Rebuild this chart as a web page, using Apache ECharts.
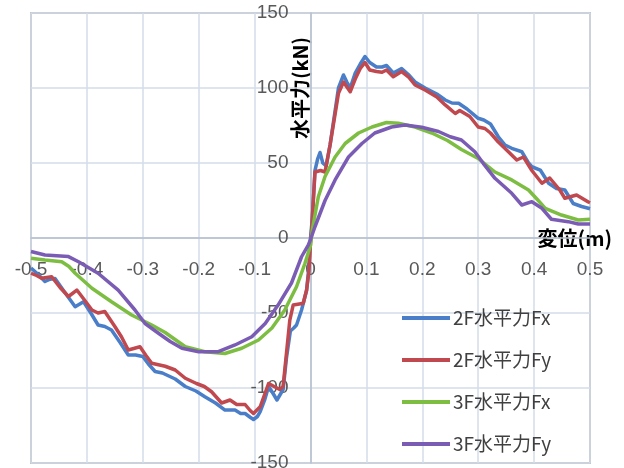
<!DOCTYPE html>
<html>
<head>
<meta charset="utf-8">
<script src="https://cdn.jsdelivr.net/npm/echarts@6/dist/echarts.min.js"></script>
<style>
  html, body { margin: 0; padding: 0; background: #fff; }
  #chart { width: 624px; height: 468px; }
</style>
</head>
<body>
<div id="chart"></div>
<script>
// Displacement (m) vs horizontal force (kN) for 2F and 3F, X and Y directions
const seriesNames = ['2F水平力Fx', '2F水平力Fy', '3F水平力Fx', '3F水平力Fy'];
const seriesColors = ['#4a7ec8', '#c0484f', '#7cbd42', '#7b5cb5'];

const force2Fx = [
  [-0.5,-20],[-0.488,-24],[-0.475,-29],[-0.466,-27.5],[-0.457,-27],[-0.44,-36],[-0.421,-45.8],
  [-0.406,-42.5],[-0.393,-50],[-0.38,-58],[-0.368,-59],[-0.356,-61.3],[-0.34,-70],[-0.326,-78],
  [-0.313,-78],[-0.3,-79],[-0.29,-84],[-0.278,-89],[-0.265,-90],[-0.242,-94],[-0.224,-99],
  [-0.205,-102],[-0.189,-105.8],[-0.17,-110],[-0.153,-114.7],[-0.135,-114.7],[-0.125,-117],
  [-0.117,-117],[-0.108,-119.5],[-0.102,-121],[-0.095,-119],[-0.09,-115.8],[-0.082,-108],
  [-0.075,-99],[-0.068,-103],[-0.06,-108],[-0.049,-101],[-0.043,-80],[-0.036,-62],[-0.03,-60],
  [-0.025,-58],[-0.016,-48],[-0.007,-35],[-0.003,-20],[0,0],
  [0.003,12],[0.008,45],[0.013,53],[0.017,57],[0.022,50],[0.028,48],[0.035,62],[0.05,100],
  [0.059,108.7],[0.065,104],[0.071,100],[0.08,110],[0.089,116],[0.0975,121],[0.106,117],
  [0.118,114],[0.128,114],[0.136,115],[0.148,110],[0.163,113],[0.175,109],[0.187,104],
  [0.205,100],[0.226,96],[0.241,92],[0.253,90],[0.265,89.8],[0.28,86],[0.3,79.8],[0.31,78.7],
  [0.322,76],[0.336,67.5],[0.348,62],[0.36,59.8],[0.378,57.5],[0.39,50],[0.396,47.5],
  [0.411,45.3],[0.426,36.5],[0.44,33],[0.455,32],[0.47,23],[0.485,21],[0.497,19.8],[0.5,19.5]
];

const force2Fy = [
  [-0.5,-23.5],[-0.49,-25],[-0.481,-26.9],[-0.463,-25.8],[-0.448,-33],[-0.433,-39],[-0.418,-34.7],
  [-0.405,-41],[-0.391,-48],[-0.38,-50],[-0.368,-49],[-0.35,-59],[-0.338,-66],[-0.326,-74.7],
  [-0.305,-72.5],[-0.295,-78],[-0.284,-83.5],[-0.26,-85.5],[-0.242,-88],[-0.224,-93.5],
  [-0.204,-97],[-0.19,-99],[-0.177,-102.5],[-0.159,-110],[-0.144,-108],[-0.132,-111],
  [-0.117,-111],[-0.108,-115],[-0.102,-117],[-0.09,-112.5],[-0.075,-97],[-0.065,-99],
  [-0.055,-101],[-0.049,-99],[-0.037,-54.7],[-0.031,-44.7],[-0.02,-44],[-0.013,-43.5],
  [-0.007,-34.7],[-0.003,-23],[0,-3],
  [0.002,5],[0.008,44],[0.018,45],[0.026,44],[0.035,62],[0.05,96.4],[0.059,104],[0.071,97.5],
  [0.08,106],[0.089,113],[0.0975,117],[0.106,112],[0.118,111],[0.128,110.5],[0.136,112],
  [0.148,107.5],[0.163,111],[0.175,107.5],[0.187,102],[0.205,98.7],[0.226,94],[0.241,88.7],
  [0.259,83],[0.267,85],[0.285,81],[0.3,74],[0.312,73],[0.322,70],[0.336,64],[0.354,57.5],
  [0.369,52],[0.381,54],[0.396,45],[0.414,36.5],[0.428,40],[0.446,32],[0.455,26.5],
  [0.476,28.7],[0.497,24],[0.5,23.5]
];

const force3Fx = [
  [-0.5,-13.5],[-0.475,-14.7],[-0.445,-15.8],[-0.432,-19],[-0.421,-23.5],[-0.391,-33.5],
  [-0.356,-42.5],[-0.32,-51.3],[-0.284,-58],[-0.26,-63],[-0.224,-72.5],[-0.189,-75.8],
  [-0.153,-77],[-0.123,-73.5],[-0.093,-68],[-0.069,-60],[-0.046,-48],[-0.025,-32.5],
  [-0.01,-17],[0,-5],
  [0.003,5],[0.014,27.5],[0.026,41],[0.044,54],[0.062,63],[0.086,70],[0.11,74],[0.136,77],
  [0.157,76.5],[0.187,74],[0.217,70],[0.245,65],[0.27,59],[0.3,53],[0.33,44],[0.36,38.7],
  [0.39,32],[0.405,26],[0.42,19.8],[0.449,15.3],[0.479,12],[0.5,12.5]
];

const force3Fy = [
  [-0.5,-9],[-0.475,-11.3],[-0.433,-12.4],[-0.415,-15.8],[-0.38,-23.5],[-0.344,-34.7],
  [-0.314,-48],[-0.296,-57],[-0.272,-63.5],[-0.251,-69],[-0.23,-73.5],[-0.2,-75.8],
  [-0.165,-75.8],[-0.135,-71.3],[-0.105,-65.8],[-0.081,-57],[-0.058,-44.7],[-0.034,-30],
  [-0.016,-12.5],[-0.004,-4.7],[0,-1],
  [0.008,7.5],[0.026,25],[0.044,38.7],[0.068,54],[0.092,63],[0.115,70],[0.145,74],
  [0.169,75.3],[0.199,73.8],[0.229,71],[0.25,67.5],[0.27,65.3],[0.294,57.5],[0.309,49.8],
  [0.33,39.8],[0.36,29.8],[0.378,22],[0.396,24.2],[0.414,19.8],[0.431,12.5],[0.461,10.9],
  [0.479,9.3],[0.5,9.3]
];

const seriesData = [force2Fx, force2Fy, force3Fx, force3Fy];

const xTicks = { min: -0.5, max: 0.5, step: 0.1 };
const yTicks = { min: -150, max: 150, step: 50 };

// plot box in pixels
const plot = { left: 31, right: 34, top: 13, bottom: 5, width: 559, height: 450 };
// shift each axis from its box edge onto the other axis' zero
const xAxisShift = -plot.height * (0 - yTicks.min) / (yTicks.max - yTicks.min);
const yAxisShift = -plot.width * (0 - xTicks.min) / (xTicks.max - xTicks.min);

const latin = "'Liberation Sans', 'Noto Sans CJK JP', sans-serif";
const cjk = "'Noto Sans CJK JP', 'Liberation Sans', sans-serif";
const gridLine = { lineStyle: { color: '#d3dde9', width: 1.5 } };

const chart = echarts.init(document.getElementById('chart'), null, { renderer: 'canvas' });

chart.setOption({
  animation: false,
  backgroundColor: '#ffffff',
  grid: {
    left: plot.left, right: plot.right, top: plot.top, bottom: plot.bottom,
    containLabel: false,
    outerBoundsMode: 'none',
    show: true, borderColor: '#9a9a9a', borderWidth: 1.5
  },
  xAxis: {
    type: 'value',
    position: 'bottom',
    offset: xAxisShift,
    min: xTicks.min, max: xTicks.max, interval: xTicks.step,
    name: '変位(m)',
    nameLocation: 'end',
    nameGap: 22,
    nameTextStyle: {
      fontFamily: cjk, fontSize: 20, fontWeight: 'bold', color: '#000',
      align: 'right', verticalAlign: 'middle', padding: [14, 0, 0, 0]
    },
    axisLine: { onZero: false, lineStyle: { color: '#b4bfcd', width: 1.5 } },
    axisTick: { show: false },
    axisLabel: {
      margin: 22, fontFamily: latin, fontSize: 19, color: '#595959',
      showMinLabel: true, showMaxLabel: true,
      formatter: v => String(Number(v.toFixed(1)))
    },
    splitLine: gridLine
  },
  yAxis: {
    type: 'value',
    position: 'left',
    offset: yAxisShift,
    min: yTicks.min, max: yTicks.max, interval: yTicks.step,
    axisLine: { onZero: false, lineStyle: { color: '#b4bfcd', width: 1.5 } },
    axisTick: { show: false },
    axisLabel: {
      margin: 22, fontFamily: latin, fontSize: 19, color: '#595959',
      showMinLabel: true, showMaxLabel: true
    },
    splitLine: gridLine
  },
  legend: {
    orient: 'vertical',
    left: 402, top: 308,
    padding: 0,
    itemWidth: 48, itemHeight: 4, itemGap: 22,
    icon: 'rect',
    textStyle: { fontFamily: cjk, fontSize: 19, lineHeight: 20, color: '#404040', padding: [0, 0, 0, -2] },
    data: seriesNames
  },
  graphic: [{
    type: 'text',
    x: 300, y: 88,
    rotation: Math.PI / 2,
    style: {
      text: '水平力(kN)',
      font: "bold 20px 'Noto Sans CJK JP', 'Liberation Sans', sans-serif",
      fill: '#000',
      align: 'center',
      verticalAlign: 'middle'
    }
  }],
  series: seriesNames.map((name, i) => ({
    name,
    type: 'line',
    data: seriesData[i],
    symbol: 'none',
    smooth: false,
    clip: true,
    color: seriesColors[i],
    lineStyle: { width: 3.5, color: seriesColors[i], join: 'round' }
  }))
});
</script>
</body>
</html>
